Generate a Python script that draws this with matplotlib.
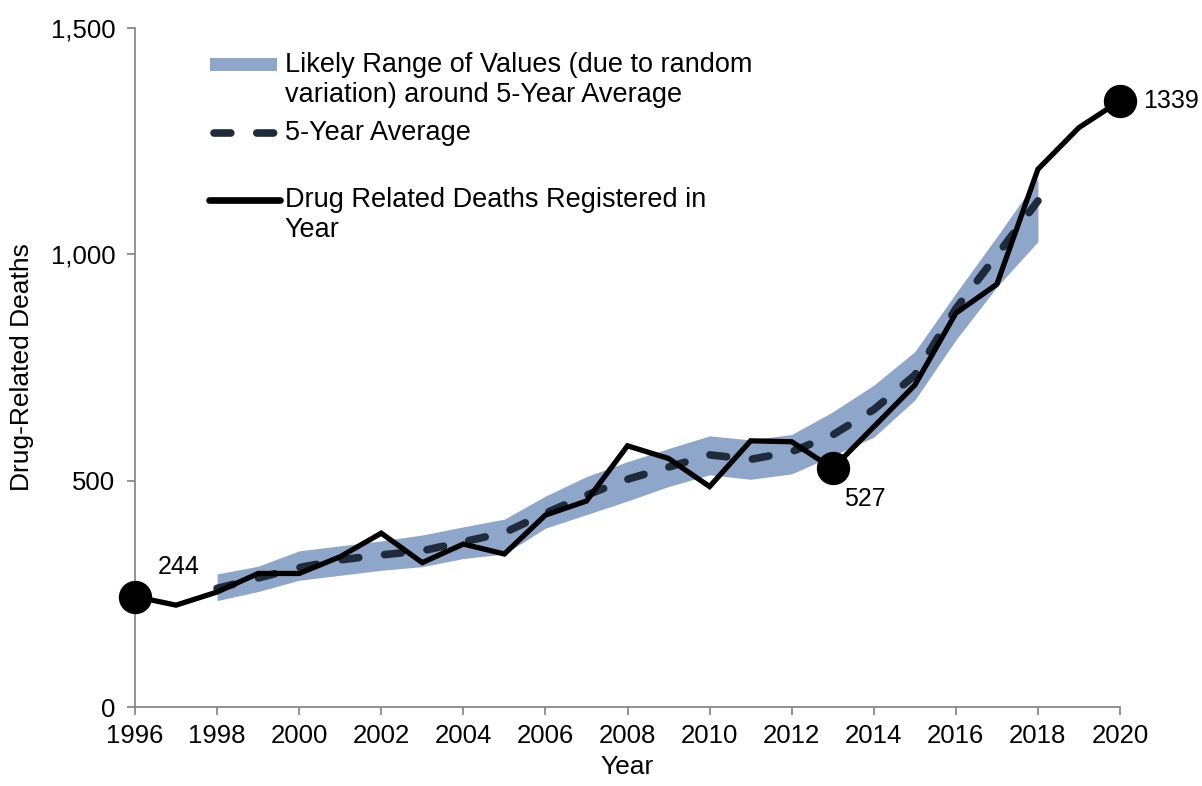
import matplotlib
matplotlib.use('Agg')
import matplotlib.pyplot as plt
from matplotlib.patches import Rectangle
from matplotlib.lines import Line2D
from matplotlib.ticker import FuncFormatter

plt.rcParams['font.family'] = ['Liberation Sans', 'DejaVu Sans']

# Drug related deaths registered in year
years = list(range(1996, 2021))
deaths = [244, 225, 254, 295, 295, 332, 384, 319, 360, 338, 424, 455, 577, 549, 487,
          588, 586, 527, 619, 711, 870, 934, 1188, 1280, 1339]

# 5-year average and likely range (1998-2018)
avg_years = list(range(1998, 2019))
avg5 = [262, 285, 308, 325, 336, 345, 365, 385, 428, 468, 503, 530, 557, 547, 564,
        601, 657, 733, 880, 998, 1118]
band_hi = [294, 311, 345, 356, 367, 380, 398, 415, 466, 509, 542, 571, 599, 590, 602,
           652, 711, 785, 914, 1039, 1168]
band_lo = [235, 255, 280, 291, 302, 310, 328, 338, 395, 425, 455, 487, 513, 503, 515,
           555, 596, 678, 811, 928, 1028]

labelled = [1996, 2013, 2020]

band_col = '#8fa6cb'
avg_col = '#1f2a3a'
leg_fs = 19.5

fig = plt.figure(figsize=(12.02, 7.86), dpi=100)
ax = fig.add_axes([0.1123, 0.1005, 0.8195, 0.8639])

ax.fill_between(avg_years, band_lo, band_hi, color=band_col, lw=0)
ax.plot(avg_years, avg5, color=avg_col, lw=5.5, linestyle=(0, (2.2, 3.4)),
        dash_capstyle='round')
ax.plot(years, deaths, color='black', lw=3.8, solid_joinstyle='miter')

for yr in labelled:
    v = deaths[years.index(yr)]
    ax.plot(yr, v, 'o', color='black', markersize=23, clip_on=False, zorder=5)

# point labels
i = years.index(1996)
ax.annotate(str(deaths[i]), (years[i], deaths[i]), xytext=(23, 23),
            textcoords='offset pixels', fontsize=18, ha='left', va='baseline')
i = years.index(2013)
ax.annotate(str(deaths[i]), (years[i], deaths[i]), xytext=(11, -38),
            textcoords='offset pixels', fontsize=18, ha='left', va='baseline')
i = years.index(2020)
ax.annotate(str(deaths[i]), (years[i], deaths[i]), xytext=(23, 0),
            textcoords='offset pixels', fontsize=18, ha='left', va='center')

ax.set_xlim(1996, 2020)
ax.set_ylim(0, 1500)
ax.set_xticks(range(1996, 2021, 2))
ax.set_yticks([0, 500, 1000, 1500])
ax.yaxis.set_major_formatter(FuncFormatter(lambda v, p: f'{int(v):,}'))

for s in ['top', 'right']:
    ax.spines[s].set_visible(False)
for s in ['left', 'bottom']:
    ax.spines[s].set_color('#808080')
    ax.spines[s].set_linewidth(1.2)
ax.tick_params(axis='both', colors='#808080', length=6, width=1.2, labelsize=18.5,
               labelcolor='black')
ax.tick_params(axis='y', pad=8)
ax.tick_params(axis='x', pad=6)

ax.set_xlabel('Year', fontsize=19, labelpad=5)
ax.set_ylabel('Drug-Related Deaths', fontsize=19, labelpad=12)

# legend drawn by hand
tx = 0.152
ax.add_patch(Rectangle((0.076, 0.936), 0.068, 0.0196, transform=ax.transAxes,
                       color=band_col, lw=0))
ax.text(tx, 0.9455, 'Likely Range of Values (due to random', transform=ax.transAxes,
        fontsize=leg_fs, va='center')
ax.text(tx, 0.901, 'variation) around 5-Year Average', transform=ax.transAxes,
        fontsize=leg_fs, va='center')
ax.add_line(Line2D([0.08, 0.145], [0.846, 0.846], transform=ax.transAxes, color=avg_col,
                   lw=5.5, linestyle=(0, (2.2, 3.4)), dash_capstyle='round'))
ax.text(tx, 0.846, '5-Year Average', transform=ax.transAxes, fontsize=leg_fs, va='center')
ax.add_line(Line2D([0.075, 0.147], [0.747, 0.747], transform=ax.transAxes, color='black',
                   lw=4.8, solid_capstyle='round'))
ax.text(tx, 0.747, 'Drug Related Deaths Registered in', transform=ax.transAxes,
        fontsize=leg_fs, va='center')
ax.text(tx, 0.702, 'Year', transform=ax.transAxes, fontsize=leg_fs, va='center')

fig.savefig('out.png', dpi=100)
